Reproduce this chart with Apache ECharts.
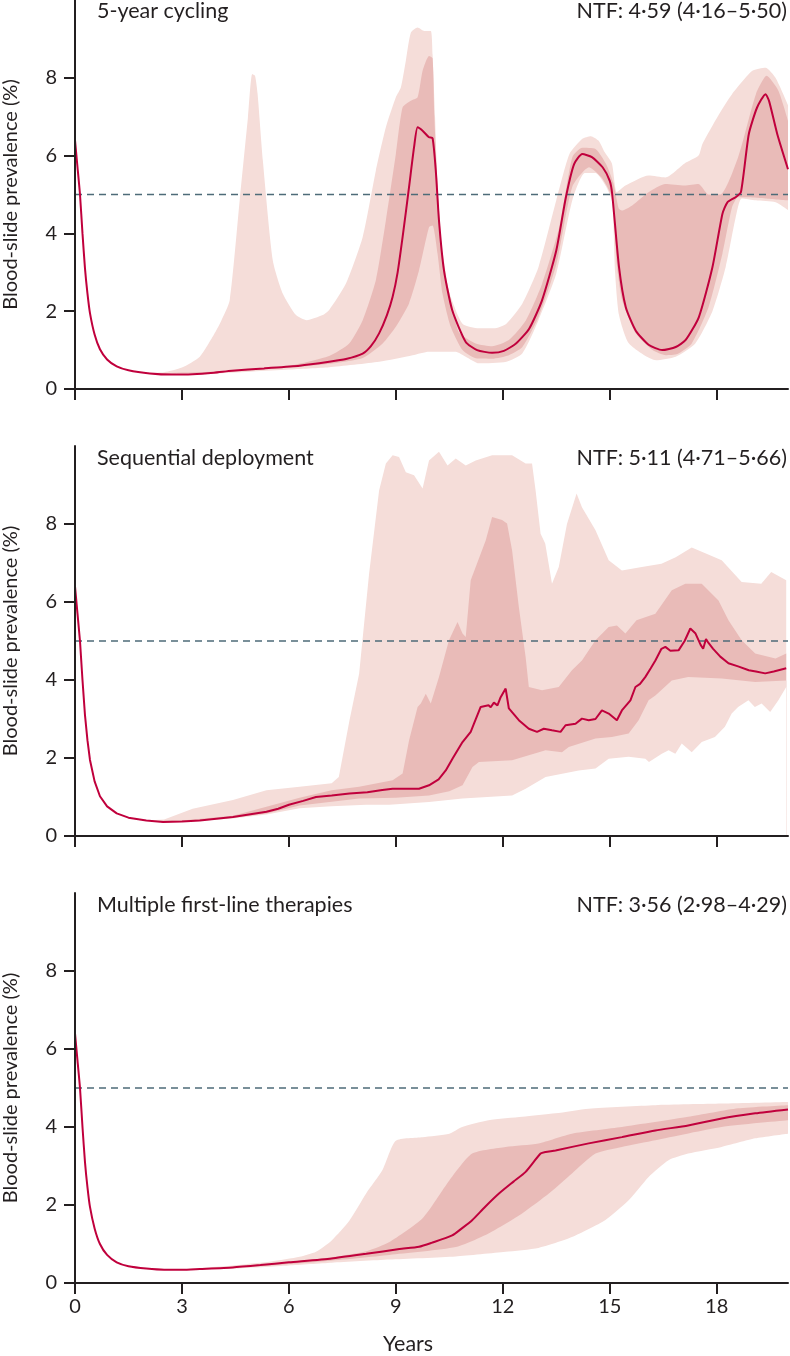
<!DOCTYPE html>
<html>
<head>
<meta charset="utf-8">
<style>
  html, body { margin: 0; padding: 0; background: #ffffff; }
  #chart { width: 790px; height: 1356px; }
</style>
<script src="https://cdn.jsdelivr.net/npm/echarts@6/dist/echarts.min.js"></script>
</head>
<body>
<div id="chart"></div>
<script>
// ---------- tick labels ----------
const xTicks = [0, 3, 6, 9, 12, 15, 18];
const yTicks = [0, 2, 4, 6, 8];
const threshold = 5;

// ---------- panel titles ----------
const panelTitles = ['5-year cycling', 'Sequential deployment', 'Multiple first-line therapies'];
const panelNTF = ['NTF: 4·59 (4·16–5·50)', 'NTF: 5·11 (4·71–5·66)', 'NTF: 3·56 (2·98–4·29)'];

// ---------- panel 1: 5-year cycling  [years, prevalence %] ----------
const p1Median = [[0,6.4],[0.07,5.7],[0.14,5.0],[0.21,4.0],[0.28,3.1],[0.35,2.45],[0.42,1.95],[0.55,1.4],[0.7,1.02],[0.9,0.76],[1.17,0.58],[1.5,0.48],[2.1,0.4],[2.7,0.37],[3.3,0.38],[3.9,0.42],[4.4,0.47],[5.3,0.53],[6.3,0.6],[7.13,0.7],[7.6,0.77],[8.07,0.91],[8.3,1.1],[8.53,1.43],[8.75,1.9],[8.91,2.37],[9.05,3.0],[9.19,3.91],[9.37,5.19],[9.51,6.21],[9.61,6.73],[9.75,6.64],[9.93,6.47],[10.03,6.45],[10.12,5.62],[10.21,4.33],[10.35,3.05],[10.58,2.03],[10.96,1.21],[11.28,1.0],[11.7,0.93],[12.03,0.98],[12.37,1.17],[12.74,1.55],[13.1,2.28],[13.5,3.56],[13.77,4.93],[14.0,5.78],[14.23,6.04],[14.5,5.96],[14.8,5.7],[15.0,5.35],[15.07,5.0],[15.26,3.13],[15.45,2.1],[15.73,1.5],[16.1,1.13],[16.47,1.0],[16.85,1.08],[17.13,1.26],[17.5,1.85],[17.88,3.13],[18.16,4.5],[18.3,4.8],[18.53,4.93],[18.68,5.06],[18.9,6.55],[19.13,7.23],[19.37,7.58],[19.47,7.4],[19.7,6.55],[20,5.65]];
const p1Hi95 = [[2.0,0.41],[2.5,0.43],[3.0,0.55],[3.5,0.83],[3.86,1.34],[4.1,1.75],[4.34,2.28],[4.62,4.85],[4.85,6.97],[4.97,8.1],[5.05,8.05],[5.12,7.6],[5.27,5.87],[5.55,3.3],[5.83,2.45],[6.2,1.9],[6.5,1.77],[6.95,1.9],[7.13,2.03],[7.6,2.71],[8.07,3.91],[8.44,5.62],[8.72,6.73],[9.0,7.5],[9.14,7.75],[9.28,8.44],[9.42,9.16],[9.61,9.29],[9.8,9.2],[9.98,9.2],[10.03,8.6],[10.1,7.0],[10.17,5.2],[10.26,3.9],[10.4,3.0],[10.49,2.5],[10.87,1.68],[11.33,1.56],[11.75,1.56],[12.1,1.68],[12.55,2.2],[13.0,3.13],[13.5,4.85],[13.87,6.04],[14.23,6.43],[14.47,6.5],[14.69,6.38],[14.85,6.1],[15.06,5.8],[15.2,5.06],[15.44,5.23],[16.09,5.49],[16.56,5.44],[17.1,5.8],[17.49,6.0],[17.6,6.3],[18.07,7.07],[18.43,7.58],[19.0,8.18],[19.37,8.26],[19.65,8.0],[20,7.3]];
const p1Hi50 = [[2.0,0.4],[4.0,0.45],[6.0,0.6],[7.13,0.85],[7.69,1.17],[8.07,1.77],[8.44,2.8],[8.72,4.33],[9.0,6.04],[9.19,7.24],[9.42,7.41],[9.61,7.5],[9.75,8.18],[9.93,8.56],[10.03,8.5],[10.08,7.0],[10.15,5.6],[10.21,4.6],[10.3,3.5],[10.4,2.9],[10.58,2.15],[10.77,1.45],[11.24,1.17],[11.7,1.1],[12.17,1.26],[12.65,1.77],[13.1,2.7],[13.58,4.15],[13.95,5.96],[14.23,6.2],[14.6,6.17],[14.9,5.78],[15.1,5.3],[15.25,4.64],[15.34,4.59],[15.63,4.72],[16.09,5.06],[16.56,5.27],[17.1,5.23],[17.49,5.27],[17.77,5.0],[18.1,5.0],[18.6,5.96],[19.1,7.58],[19.4,8.05],[19.73,7.67],[20,6.9]];
const p1Lo50 = [[1.95,0.4],[4.0,0.42],[6.0,0.55],[7.13,0.65],[8.07,0.8],[8.63,1.17],[9.0,1.6],[9.37,2.2],[9.65,3.05],[9.93,4.16],[10.03,4.2],[10.17,3.48],[10.31,2.45],[10.54,1.6],[10.87,1.0],[11.24,0.79],[11.7,0.78],[12.17,0.87],[12.55,1.08],[13.0,1.85],[13.5,3.2],[13.95,5.2],[14.42,5.7],[14.8,5.4],[15.07,4.9],[15.2,3.2],[15.35,2.28],[15.73,1.43],[16.2,1.0],[16.57,0.87],[16.9,0.9],[17.3,1.17],[17.77,2.1],[18.16,3.48],[18.43,4.67],[18.6,4.93],[18.9,4.93],[19.37,4.9],[20,4.85]];
const p1Lo95 = [[1.9,0.41],[3.0,0.36],[4.0,0.4],[5.0,0.45],[6.0,0.5],[7.13,0.56],[8.53,0.7],[9.47,0.87],[9.93,0.96],[10.68,0.96],[10.96,0.83],[11.33,0.66],[12.1,0.7],[12.55,0.92],[13.0,1.77],[13.5,2.97],[13.95,4.85],[14.3,5.55],[14.6,5.55],[14.9,5.2],[15.07,4.8],[15.15,3.0],[15.26,1.9],[15.54,1.17],[16.3,0.74],[16.85,0.83],[17.4,1.17],[17.88,2.0],[18.25,3.13],[18.53,4.4],[18.7,4.9],[19.1,4.85],[19.65,4.8],[20,4.6]];

// ---------- panel 2: sequential deployment ----------
const p2Median = [[0,6.4],[0.07,5.7],[0.14,5.0],[0.21,4.0],[0.28,3.1],[0.35,2.45],[0.42,1.95],[0.55,1.4],[0.7,1.02],[0.9,0.76],[1.17,0.58],[1.5,0.47],[2.0,0.4],[2.47,0.36],[3.0,0.37],[3.5,0.4],[4.43,0.49],[5.37,0.62],[5.7,0.7],[6.0,0.8],[6.4,0.9],[6.76,1.0],[7.2,1.04],[7.7,1.09],[8.2,1.12],[8.62,1.18],[8.91,1.21],[9.3,1.21],[9.65,1.21],[9.93,1.3],[10.2,1.45],[10.4,1.68],[10.6,2.0],[10.87,2.41],[11.1,2.67],[11.2,2.9],[11.38,3.31],[11.6,3.35],[11.66,3.3],[11.75,3.42],[11.85,3.35],[11.94,3.56],[12.08,3.78],[12.17,3.27],[12.45,2.97],[12.73,2.75],[12.96,2.67],[13.15,2.75],[13.38,2.71],[13.62,2.67],[13.76,2.84],[14.04,2.88],[14.22,3.01],[14.41,2.97],[14.6,3.0],[14.78,3.22],[14.97,3.14],[15.2,2.97],[15.34,3.22],[15.58,3.48],[15.72,3.82],[15.85,3.9],[16.0,4.08],[16.15,4.3],[16.28,4.5],[16.45,4.8],[16.56,4.85],[16.7,4.75],[16.93,4.76],[17.1,5.0],[17.26,5.32],[17.4,5.2],[17.55,4.9],[17.62,4.8],[17.7,5.05],[17.77,4.95],[17.9,4.8],[18.1,4.6],[18.33,4.43],[18.6,4.35],[18.9,4.25],[19.1,4.22],[19.36,4.17],[19.6,4.22],[19.95,4.3]];
const p2Hi95 = [[2.0,0.4],[2.5,0.42],[3.3,0.7],[4.43,0.92],[5.37,1.17],[6.3,1.26],[7.2,1.35],[7.4,1.51],[7.7,2.97],[7.97,4.16],[8.25,6.73],[8.53,8.86],[8.72,9.55],[8.91,9.76],[9.09,9.72],[9.28,9.33],[9.51,9.25],[9.75,8.91],[9.93,9.63],[10.21,9.85],[10.45,9.5],[10.68,9.68],[10.96,9.5],[11.24,9.63],[11.7,9.76],[12.26,9.76],[12.64,9.55],[12.82,9.55],[12.92,8.86],[13.06,7.75],[13.19,7.5],[13.38,6.47],[13.57,6.9],[13.8,8.0],[14.07,8.78],[14.22,8.43],[14.6,7.84],[14.97,7.07],[15.34,6.81],[15.9,6.9],[16.45,6.98],[16.85,7.15],[17.3,7.4],[17.68,7.25],[18.14,7.07],[18.7,6.51],[19.25,6.47],[19.53,6.77],[19.95,6.56]];
const p2Hi50 = [[2.0,0.4],[3.0,0.4],[4.43,0.52],[5.37,0.75],[6.3,0.98],[7.2,1.17],[7.97,1.26],[8.91,1.43],[9.19,1.6],[9.37,2.45],[9.61,3.31],[9.7,3.4],[9.84,3.65],[9.98,3.4],[10.21,4.08],[10.49,5.02],[10.73,5.49],[10.87,5.19],[10.96,5.1],[11.1,6.56],[11.24,6.9],[11.52,7.58],[11.7,8.18],[11.98,8.1],[12.12,8.01],[12.26,7.33],[12.45,5.87],[12.64,4.59],[12.73,3.82],[13.1,3.74],[13.57,3.82],[13.94,4.25],[14.22,4.5],[14.6,5.02],[14.97,5.36],[15.2,5.4],[15.44,5.19],[15.75,5.53],[16.28,5.7],[16.74,6.3],[17.12,6.47],[17.58,6.47],[18.05,6.04],[18.33,5.53],[18.7,5.02],[19.08,4.68],[19.65,4.55],[19.95,4.68]];
const p2Lo50 = [[1.95,0.4],[3.0,0.37],[4.43,0.47],[5.37,0.58],[6.3,0.78],[7.2,0.88],[7.97,0.96],[9.0,0.98],[9.93,1.04],[10.5,1.15],[10.87,1.3],[11.15,1.77],[11.33,1.9],[12.26,1.94],[12.73,2.07],[13.2,2.2],[13.66,2.15],[13.85,2.28],[14.6,2.5],[15.06,2.54],[15.53,2.63],[15.81,2.97],[16.09,3.48],[16.28,3.6],[16.74,3.99],[17.2,4.08],[18.14,4.04],[19.08,3.95],[19.95,3.99]];
const p2Lo95 = [[1.9,0.41],[3.0,0.36],[4.43,0.45],[5.37,0.55],[6.3,0.71],[7.2,0.76],[8.17,0.8],[8.82,0.8],[9.93,0.87],[10.87,0.96],[12.26,1.04],[12.64,1.21],[13.2,1.51],[14.13,1.68],[14.6,1.73],[14.97,1.98],[15.53,2.03],[16.0,1.98],[16.1,1.9],[16.46,2.11],[16.65,2.2],[16.84,2.11],[17.02,2.37],[17.3,2.15],[17.58,2.41],[17.95,2.54],[18.23,2.8],[18.42,3.14],[18.6,3.31],[18.89,3.48],[19.07,3.31],[19.26,3.4],[19.5,3.18],[19.73,3.48],[19.95,3.82]];

// ---------- panel 3: multiple first-line therapies ----------
const p3Median = [[0,6.4],[0.07,5.7],[0.14,5.0],[0.21,4.0],[0.28,3.1],[0.35,2.45],[0.42,1.95],[0.55,1.4],[0.7,1.0],[0.9,0.72],[1.17,0.53],[1.5,0.43],[2.0,0.37],[2.5,0.34],[3.0,0.34],[3.5,0.36],[4.43,0.4],[5.2,0.46],[6.0,0.53],[7.2,0.63],[8.17,0.75],[9.1,0.87],[9.65,0.93],[10.0,1.03],[10.58,1.22],[10.85,1.4],[11.14,1.61],[11.5,1.95],[11.9,2.3],[12.3,2.6],[12.64,2.85],[13.06,3.32],[13.2,3.36],[13.48,3.4],[14.41,3.58],[15.34,3.74],[16.28,3.91],[17.2,4.04],[18.14,4.22],[19.08,4.35],[20,4.45]];
const p3Hi95 = [[3.0,0.35],[4.43,0.45],[5.5,0.55],[6.3,0.67],[6.76,0.8],[7.2,1.09],[7.7,1.6],[8.17,2.3],[8.62,2.89],[9.0,3.65],[9.75,3.74],[10.5,3.83],[10.86,4.0],[11.6,4.17],[12.55,4.26],[13.48,4.35],[14.41,4.47],[16.28,4.56],[18.14,4.6],[20,4.64]];
const p3Hi50 = [[3.0,0.35],[5.0,0.45],[6.5,0.58],[7.5,0.7],[8.2,0.82],[8.82,1.05],[9.75,1.66],[10.5,2.63],[11.14,3.32],[12.08,3.49],[13.0,3.58],[13.94,3.83],[15.34,4.0],[17.2,4.26],[18.6,4.48],[20,4.56]];
const p3Lo50 = [[2.95,0.34],[5.0,0.42],[7.0,0.56],[8.82,0.72],[10.68,0.92],[11.6,1.27],[12.55,1.79],[13.3,2.3],[13.94,2.81],[14.6,3.32],[15.34,3.49],[16.28,3.66],[18.14,4.0],[20,4.17]];
const p3Lo95 = [[2.9,0.34],[4.43,0.37],[6.0,0.45],[7.2,0.52],[8.82,0.6],[10.68,0.68],[12.08,0.8],[13.0,0.9],[13.94,1.18],[14.87,1.61],[15.53,2.12],[16.09,2.72],[16.65,3.15],[17.2,3.32],[18.14,3.49],[19.08,3.71],[20,3.83]];

// ---------- styling ----------
const FONT = 'Lato';
const INK = '#231f20';
const COL_LIGHT = '#f5ddd9';
const COL_DARK = '#e9bbb8';
const COL_LINE = '#c0003c';
const COL_DASH = '#4e6b78';

const panels = [
  { med: p1Median, hi95: p1Hi95, hi50: p1Hi50, lo50: p1Lo50, lo95: p1Lo95, smooth: 0.2 },
  { med: p2Median, hi95: p2Hi95, hi50: p2Hi50, lo50: p2Lo50, lo95: p2Lo95, smooth: false },
  { med: p3Median, hi95: p3Hi95, hi50: p3Hi50, lo50: p3Lo50, lo95: p3Lo95, smooth: 0.2 }
];
const gridTops = [0, 446, 893];
const gridHeights = [389, 390, 390];
const titleY = [13, 460, 907];

const chart = echarts.init(document.getElementById('chart'), null, { renderer: 'canvas' });

const grids = [], xAxes = [], yAxes = [], series = [], graphics = [];
panels.forEach((p, i) => {
  grids.push({ left: 75, right: 2, top: gridTops[i], height: gridHeights[i], containLabel: false, outerBoundsMode: 'none' });
  xAxes.push({
    gridIndex: i, type: 'value', min: 0, max: 20, interval: 3, z: 10,
    axisLine: { show: true, lineStyle: { color: INK, width: 2 } },
    axisTick: { show: true, length: 11, lineStyle: { color: INK, width: 2 }, customValues: xTicks },
    axisLabel: { show: i === 2, customValues: xTicks, margin: 14, fontSize: 20, fontFamily: FONT, color: INK },
    splitLine: { show: false }
  });
  yAxes.push({
    gridIndex: i, type: 'value', min: 0, max: 10, interval: 2, z: 10,
    axisLine: { show: true, lineStyle: { color: INK, width: 2 } },
    axisTick: { show: true, length: 11, lineStyle: { color: INK, width: 2 }, customValues: yTicks },
    axisLabel: { customValues: yTicks, margin: 18, fontSize: 20, fontFamily: FONT, color: INK },
    splitLine: { show: false },
    name: 'Blood-slide prevalence (%)', nameLocation: 'middle', nameGap: 54,
    nameTextStyle: { fontSize: 20, fontFamily: FONT, color: INK }
  });
  const band = (data, fill, z) => ({
    type: 'line', xAxisIndex: i, yAxisIndex: i, data: data, symbol: 'none', silent: true,
    smooth: p.smooth, z: z, lineStyle: { width: 0, opacity: 0 },
    areaStyle: { color: fill, opacity: 1 }
  });
  series.push(band(p.hi95, COL_LIGHT, 1));
  series.push(band(p.hi50, COL_DARK, 2));
  series.push(band(p.lo50, COL_LIGHT, 3));
  series.push(band(p.lo95, '#ffffff', 4));
  series.push({
    type: 'line', xAxisIndex: i, yAxisIndex: i, data: [[0, threshold], [20, threshold]],
    symbol: 'none', silent: true, z: 5,
    lineStyle: { color: COL_DASH, width: 1.6, type: [7, 5] }
  });
  series.push({
    type: 'line', xAxisIndex: i, yAxisIndex: i, data: p.med, symbol: 'none', silent: true,
    smooth: p.smooth, z: 6, lineStyle: { color: COL_LINE, width: 2 }
  });
  graphics.push({
    type: 'text', left: 97, top: titleY[i] - 13,
    style: { text: panelTitles[i], font: '21.5px ' + FONT, fill: INK }
  });
  graphics.push({
    type: 'text', right: 3, top: titleY[i] - 13,
    style: { text: panelNTF[i], font: '21.5px ' + FONT, fill: INK }
  });
});
graphics.push({
  type: 'text', left: 383, top: 1333,
  style: { text: 'Years', font: '21.5px ' + FONT, fill: INK }
});

chart.setOption({
  animation: false,
  backgroundColor: '#ffffff',
  textStyle: { fontFamily: FONT },
  grid: grids, xAxis: xAxes, yAxis: yAxes, series: series, graphic: graphics
});
</script>
</body>
</html>
